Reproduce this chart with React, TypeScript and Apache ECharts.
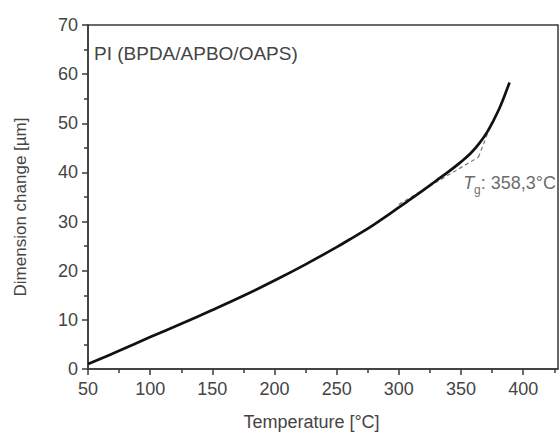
import React, { useEffect, useRef } from "react";
import * as echarts from "echarts";

const temperatures = [50, 75, 100, 125, 150, 175, 200, 225, 250, 260, 270, 280, 290, 300, 310, 320, 330, 340, 350, 358, 365, 371, 376, 381, 385, 389];
const dimensionChange = [1.0, 3.7, 6.5, 9.2, 12.0, 14.9, 18.0, 21.3, 24.8, 26.3, 27.8, 29.4, 31.1, 32.9, 34.65, 36.45, 38.3, 40.15, 42.15, 43.95, 46.0, 48.2, 50.5, 53.1, 55.6, 58.3];

const lowerTangentX = [300, 364];
const lowerTangentY = [33.5, 43.1];
const upperTangentX = [364, 374.5];
const upperTangentY = [43.1, 50.0];

const tgAnchor = [351.7, 37.9];
const tgValue = "358,3";

const xMajorTicks = [50, 100, 150, 200, 250, 300, 350, 400];
const xMinorTicks = [75, 125, 175, 225, 275, 325, 375, 425];

const titleText = "PI (BPDA/APBO/OAPS)";
const xName = "Temperature [°C]";
const yName = "Dimension change [µm]";

const FONT = "Liberation Sans, Arial, Helvetica, sans-serif";
const AXIS_COLOR = "#3a3a3a";
const TEXT_COLOR = "#444";

export default function App() {
  const ref = useRef<HTMLDivElement>(null);

  useEffect(() => {
    if (!ref.current) return;
    const chart = echarts.init(ref.current, undefined, { renderer: "svg" });
    const zip = (xs: number[], ys: number[]) => xs.map((x, i) => [x, ys[i]]);

    chart.setOption({
      animation: false,
      backgroundColor: "#ffffff",
      textStyle: { fontFamily: FONT },
      title: {
        text: titleText,
        left: 94,
        top: 44,
        padding: 0,
        textStyle: { fontSize: 19, fontWeight: "normal", color: TEXT_COLOR, fontFamily: FONT },
      },
      grid: {
        left: 88,
        top: 25,
        right: 2,
        bottom: 64,
        show: true,
        borderColor: AXIS_COLOR,
        borderWidth: 1.5,
        backgroundColor: "transparent",
      },
      xAxis: [
        {
          type: "value",
          min: 50,
          max: 428,
          interval: 50,
          position: "bottom",
          name: xName,
          nameLocation: "middle",
          nameGap: 44,
          nameTextStyle: { fontSize: 18, color: TEXT_COLOR, fontFamily: FONT, padding: [0, 23, 0, 0] },
          axisLine: { show: true, onZero: false, lineStyle: { color: AXIS_COLOR, width: 1.5 } },
          axisTick: { show: true, inside: false, length: 6, customValues: xMajorTicks, lineStyle: { color: AXIS_COLOR, width: 1.5 } },
          axisLabel: { show: true, customValues: xMajorTicks, margin: 11, fontSize: 18, color: TEXT_COLOR, fontFamily: FONT },
          splitLine: { show: false },
        },
        {
          type: "value",
          min: 50,
          max: 428,
          interval: 25,
          position: "bottom",
          offset: 0,
          axisLine: { show: false },
          axisTick: { show: true, inside: false, length: 4, customValues: xMinorTicks, lineStyle: { color: AXIS_COLOR, width: 1.5 } },
          axisLabel: { show: false },
          splitLine: { show: false },
        },
      ],
      yAxis: {
        type: "value",
        min: 0,
        max: 70,
        interval: 10,
        name: yName,
        nameLocation: "middle",
        nameGap: 59,
        nameRotate: 90,
        nameTextStyle: { fontSize: 17, color: TEXT_COLOR, fontFamily: FONT, padding: [0, 20, 0, 0] },
        axisLine: { show: true, onZero: false, lineStyle: { color: AXIS_COLOR, width: 1.5 } },
        axisTick: { show: true, inside: false, length: 6, lineStyle: { color: AXIS_COLOR, width: 1.5 } },
        minorTick: { show: true, splitNumber: 2, length: 4, lineStyle: { color: AXIS_COLOR, width: 1.5 } },
        axisLabel: { margin: 10, fontSize: 18, color: TEXT_COLOR, fontFamily: FONT },
        splitLine: { show: false },
      },
      series: [
        {
          type: "line",
          xAxisIndex: 0,
          data: zip(lowerTangentX, lowerTangentY),
          symbol: "none",
          lineStyle: { color: "#808080", width: 1.3, type: [4, 3] },
          z: 2,
        },
        {
          type: "line",
          xAxisIndex: 0,
          data: zip(upperTangentX, upperTangentY),
          symbol: "none",
          lineStyle: { color: "#808080", width: 1.3, type: [4, 3] },
          z: 2,
        },
        {
          type: "line",
          xAxisIndex: 0,
          data: zip(temperatures, dimensionChange),
          symbol: "none",
          smooth: 0.4,
          lineStyle: { color: "#111111", width: 2.7 },
          z: 3,
        },
        {
          type: "scatter",
          xAxisIndex: 0,
          data: [tgAnchor],
          symbolSize: 0,
          silent: true,
          label: {
            show: true,
            position: "right",
            distance: 0,
            formatter: "{t|T}{s|g}{n|: " + tgValue + "°C}",
            rich: {
              t: { fontSize: 18, fontStyle: "italic", color: TEXT_COLOR, fontFamily: FONT },
              s: { fontSize: 12, color: TEXT_COLOR, fontFamily: FONT, padding: [14, 0, 0, 0] },
              n: { fontSize: 18, color: TEXT_COLOR, fontFamily: FONT },
            },
          },
          z: 4,
        },
      ],
    });

    return () => chart.dispose();
  }, []);

  return <div ref={ref} style={{ width: 560, height: 436, position: "absolute", left: 0, top: 0 }} />;
}
